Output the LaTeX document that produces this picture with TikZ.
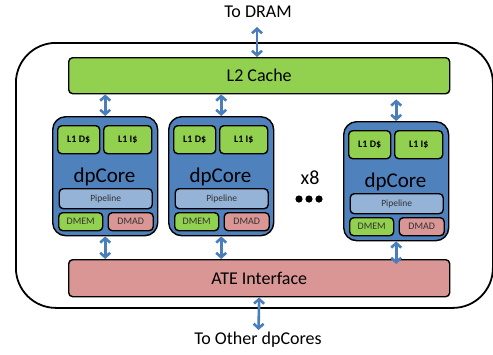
\documentclass[tikz,border=0pt]{standalone}
\usepackage{fontspec}
\setmainfont{Carlito}
\usetikzlibrary{arrows.meta}
\definecolor{coreblue}{HTML}{4F81BD}
\definecolor{cachegreen}{HTML}{92D050}
\definecolor{pipeblue}{HTML}{95B3D7}
\definecolor{atered}{HTML}{D99694}
\definecolor{linkblue}{HTML}{4A7EBB}
\definecolor{smalltext}{HTML}{333333}
\tikzset{
  box/.style={draw=black, line width=1.4pt, rounded corners=4pt, inner sep=0pt, anchor=north west},
  corebox/.style={box, fill=coreblue, rounded corners=13pt, minimum width=105pt, minimum height=119pt},
  bar/.style={box, minimum width=381pt, minimum height=36pt, font=\fontsize{18}{20}\selectfont},
  l1box/.style={box, fill=cachegreen, minimum width=42pt, minimum height=28pt, font=\bfseries\fontsize{10}{12}\selectfont},
  pipebox/.style={box, fill=pipeblue, minimum width=93pt, minimum height=20pt, font=\fontsize{9.5}{11}\selectfont, text=smalltext},
  membox/.style={box, minimum width=44pt, minimum height=18pt, font=\fontsize{10}{12}\selectfont, text=smalltext},
  label/.style={font=\fontsize{18}{20}\selectfont, inner sep=0pt},
  link/.style={draw=linkblue, line width=2.6pt, {Straight Barb[length=4.5pt,width=10pt]}-{Straight Barb[length=4.5pt,width=10pt]}},
}
% one dpCore tile: name, top-left x, top-left y
\newcommand\corecell[3]{%
  \node[corebox] (#1) at (#2,#3) {};
  \node[l1box] (#1d) at (#2+5,#3+9) {L1 D\$};
  \node[l1box, minimum width=48pt] (#1i) at (#2+51,#3+9) {L1 I\$};
  \node[font=\fontsize{21}{24}\selectfont, inner sep=0pt] (#1t) at (#2+52.5,#3+61) {dpCore};
  \node[pipebox] (#1p) at (#2+6.5,#3+72) {Pipeline};
  \node[membox, fill=cachegreen] (#1m) at (#2+6,#3+96) {DMEM};
  \node[membox, fill=atered, minimum width=45pt] (#1a) at (#2+55.5,#3+96) {DMAD};
}
\begin{document}
\begin{tikzpicture}[x=1pt,y=-1pt]
  \useasboundingbox (0,0) rectangle (493,354);
  % chip outline
  \node[draw=black, line width=1.8pt, rounded corners=40pt, inner sep=0pt, anchor=north west,
        minimum width=477pt, minimum height=265pt] (chip) at (15,42) {};
  % shared blocks
  \node[bar, fill=cachegreen] (l2) at (68,57) {L2 Cache};
  \node[bar, fill=atered, minimum height=37pt] (ate) at (68,259) {ATE Interface};
  % cores
  \corecell{c1}{52}{116}
  \corecell{c2}{168}{116}
  \corecell{c3}{343}{121}
  % replication mark
  \node[font=\fontsize{20}{22}\selectfont, inner sep=0pt] (rep) at (310,178) {x8};
  \foreach \dx in {299,309,319} \fill (\dx,199) circle (3.6pt);
  % external labels
  \node[label] (dram) at (258,12) {To DRAM};
  \node[label] (other) at (258,340) {To Other dpCores};
  \coordinate (dramport) at (257,27);
  \coordinate (otherport) at (258.5,330);
  % links
  \draw[link] (dramport) -- (dramport |- l2.north);
  \draw[link] (l2.south -| c1.north) -- (c1.north);
  \draw[link] (l2.south -| c2.north) -- (c2.north);
  \draw[link] ([yshift=-5pt]l2.south -| c3.north) -- (c3.north);
  \draw[link] (c1.south) -- (c1.south |- ate.north);
  \draw[link] (c2.south) -- (c2.south |- ate.north);
  \draw[link] (c3.south) -- ([yshift=-5pt]c3.south |- ate.north);
  \draw[link] (ate.south) -- (otherport);
\end{tikzpicture}
\end{document}
